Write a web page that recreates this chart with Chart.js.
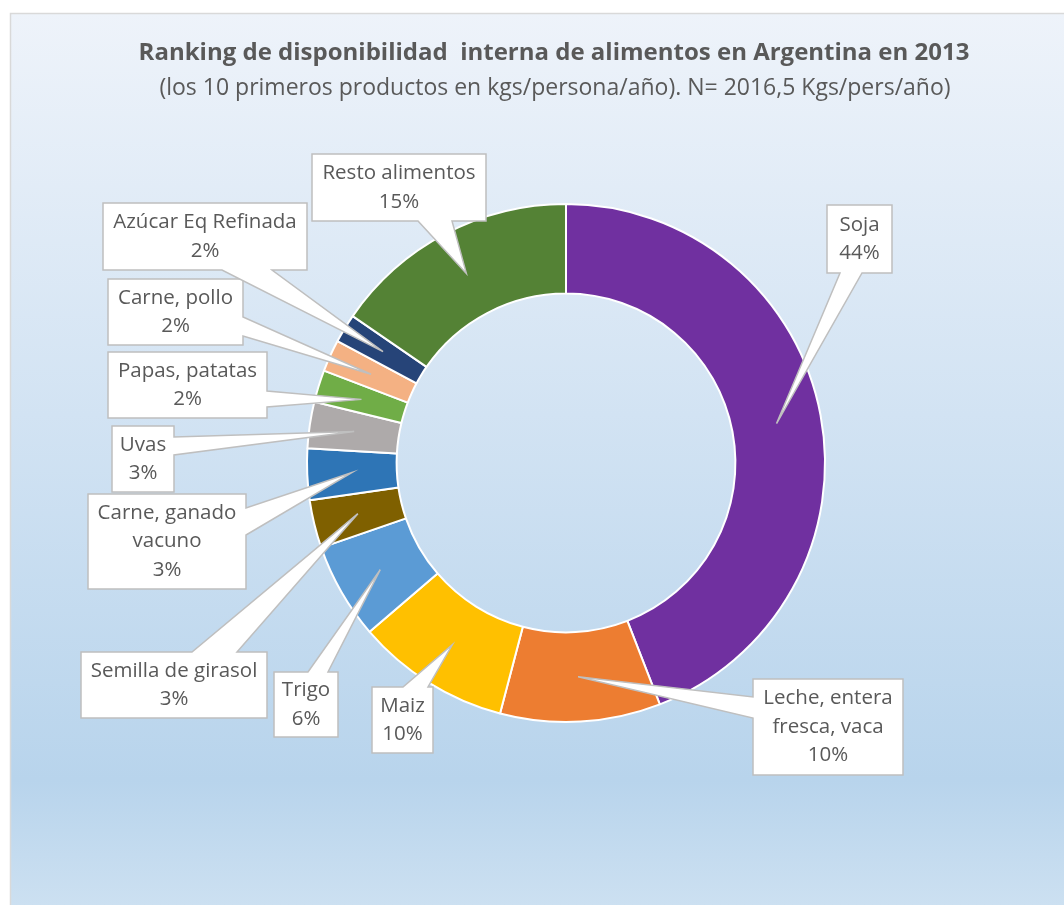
<!DOCTYPE html>
<html>
<head>
<meta charset="utf-8">
<script src="https://cdn.jsdelivr.net/npm/chart.js@4.4.1/dist/chart.umd.min.js"></script>
<style>
  html, body { margin: 0; padding: 0; background: #fff; }
  #wrap { width: 1064px; height: 905px; position: relative; }
</style>
</head>
<body>
<div id="wrap"><canvas id="chart" width="1064" height="905"></canvas></div>
<script>
// data (share of N = 2016,5 kg/pers/año, %)
const categories = [
  ["Soja"],
  ["Leche, entera", "fresca, vaca"],
  ["Maiz"],
  ["Trigo"],
  ["Semilla de girasol"],
  ["Carne, ganado", "vacuno"],
  ["Uvas"],
  ["Papas, patatas"],
  ["Carne, pollo"],
  ["Azúcar Eq Refinada"],
  ["Resto alimentos"]
];
const shares = [44.1, 10.0, 9.6, 6.0, 3.0, 3.2, 2.9, 2.0, 2.0, 1.8, 15.4];
const sliceColors = [
  "#7030A0", "#ED7D31", "#FFC000", "#5B9BD5", "#7F6000", "#2E75B6",
  "#AEAAAA", "#70AD47", "#F4B183", "#264478", "#548235"
];
const titleText = "Ranking de disponibilidad  interna de alimentos en Argentina en 2013";
const subtitleText = "(los 10 primeros productos en kgs/persona/año). N= 2016,5 Kgs/pers/año)";

// callout boxes: [x, y, w, h], side the wedge leaves from, wedge base along that side
const callouts = [
  { box: [827, 205, 65, 68],  side: "bottom", base: [840, 862] },
  { box: [753, 679, 150, 96], side: "left",   base: [697, 718] },
  { box: [372, 687, 61, 66],  side: "top",    base: [403, 428] },
  { box: [274, 672, 64, 65],  side: "top",    base: [308, 328] },
  { box: [81, 652, 186, 66],  side: "top",    base: [192, 237] },
  { box: [88, 494, 158, 95],  side: "right",  base: [508, 535] },
  { box: [112, 426, 62, 66],  side: "right",  base: [437, 455] },
  { box: [108, 352, 159, 66], side: "right",  base: [391, 407] },
  { box: [108, 279, 135, 66], side: "right",  base: [317, 336] },
  { box: [103, 203, 204, 67], side: "bottom", base: [222, 272] },
  { box: [312, 154, 174, 67], side: "bottom", base: [418, 452] }
];

const TEXT_COLOR = "#595959";
const LABEL_FONT = "20.5px 'Open Sans', sans-serif";

function calloutPath(ctx, c, tip) {
  const [x, y, w, h] = c.box;
  const [a, b] = c.base;
  ctx.beginPath();
  ctx.moveTo(x, y);
  if (c.side === "top") { ctx.lineTo(a, y); ctx.lineTo(tip.x, tip.y); ctx.lineTo(b, y); }
  ctx.lineTo(x + w, y);
  if (c.side === "right") { ctx.lineTo(x + w, a); ctx.lineTo(tip.x, tip.y); ctx.lineTo(x + w, b); }
  ctx.lineTo(x + w, y + h);
  if (c.side === "bottom") { ctx.lineTo(b, y + h); ctx.lineTo(tip.x, tip.y); ctx.lineTo(a, y + h); }
  ctx.lineTo(x, y + h);
  if (c.side === "left") { ctx.lineTo(x, b); ctx.lineTo(tip.x, tip.y); ctx.lineTo(x, a); }
  ctx.closePath();
}

const backgroundPlugin = {
  id: "bg",
  beforeDraw(chart) {
    const ctx = chart.ctx;
    ctx.save();
    ctx.fillStyle = "#ffffff";
    ctx.fillRect(0, 0, chart.width, chart.height);
    const g = ctx.createLinearGradient(0, 13, 0, chart.height);
    g.addColorStop(0, "#EEF3FA");
    g.addColorStop(0.45, "#D2E3F3");
    g.addColorStop(0.86, "#B8D4EC");
    g.addColorStop(1, "#CCE0F1");
    ctx.fillStyle = g;
    ctx.fillRect(10, 13, chart.width - 10, chart.height - 13);
    ctx.strokeStyle = "#D9D9D9";
    ctx.lineWidth = 1.5;
    ctx.strokeRect(10.5, 13.5, chart.width, chart.height);
    ctx.restore();
  }
};

const calloutPlugin = {
  id: "callouts",
  afterDatasetsDraw(chart) {
    const ctx = chart.ctx;
    const meta = chart.getDatasetMeta(0);
    const total = shares.reduce(function (s, v) { return s + v; }, 0);
    ctx.save();
    meta.data.forEach(function (arc, i) {
      const c = callouts[i];
      if (!c) return;
      const tip = arc.getCenterPoint();
      calloutPath(ctx, c, tip);
      ctx.fillStyle = "#ffffff";
      ctx.fill();
      ctx.strokeStyle = "#BFBFBF";
      ctx.lineWidth = 1.5;
      ctx.stroke();

      const lines = categories[i].concat([Math.round(shares[i] / total * 100) + "%"]);
      const lh = 28.5;
      const [x, y, w, h] = c.box;
      const cy = y + h / 2 - (lines.length - 1) * lh / 2;
      ctx.fillStyle = TEXT_COLOR;
      ctx.font = LABEL_FONT;
      ctx.textAlign = "center";
      ctx.textBaseline = "middle";
      lines.forEach(function (t, k) { ctx.fillText(t, x + w / 2, cy + k * lh); });
    });

    // title block
    ctx.fillStyle = TEXT_COLOR;
    ctx.textAlign = "center";
    ctx.textBaseline = "middle";
    ctx.font = "bold 24px 'Open Sans', sans-serif";
    ctx.fillText(titleText, 554, 53);
    ctx.font = "23px 'Open Sans', sans-serif";
    ctx.fillText(subtitleText, 555, 88);
    ctx.restore();
  }
};

new Chart(document.getElementById("chart"), {
  type: "doughnut",
  data: {
    labels: categories,
    datasets: [{
      data: shares,
      backgroundColor: sliceColors,
      borderColor: "#ffffff",
      borderWidth: 2
    }]
  },
  options: {
    responsive: false,
    animation: false,
    devicePixelRatio: 1,
    cutout: "65.4%",
    layout: { padding: { top: 203, bottom: 182, left: 168, right: 100 } },
    plugins: {
      legend: { display: false },
      tooltip: { enabled: false },
      title: { display: false }
    }
  },
  plugins: [backgroundPlugin, calloutPlugin]
});
</script>
</body>
</html>
